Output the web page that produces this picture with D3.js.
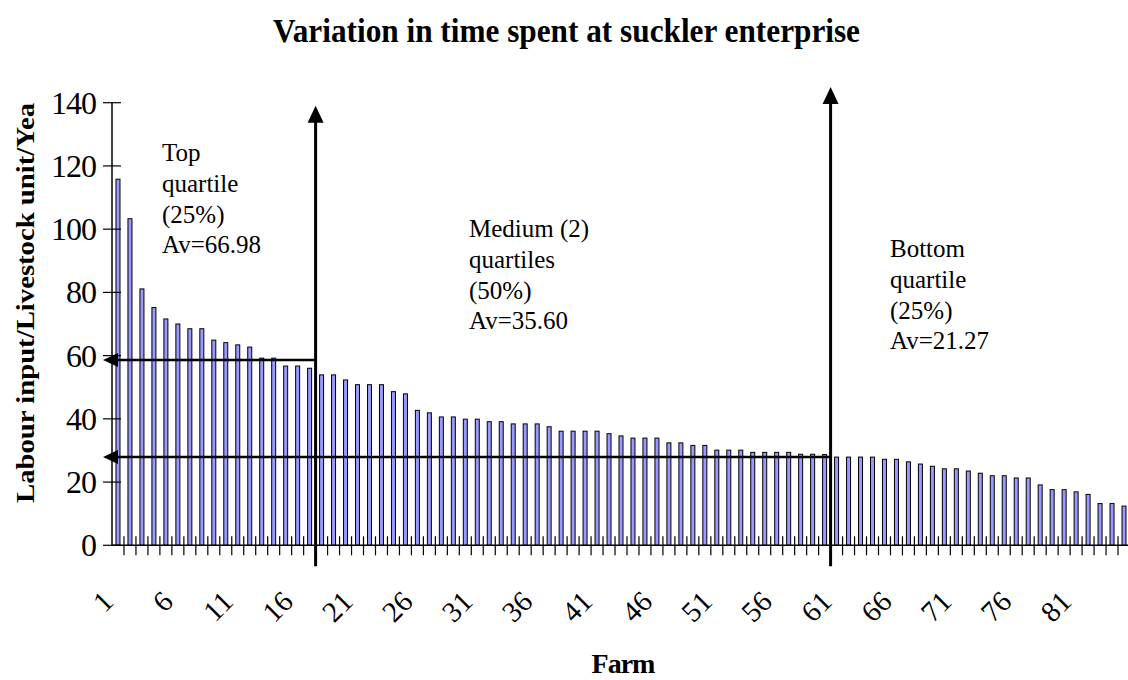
<!DOCTYPE html>
<html>
<head>
<meta charset="utf-8">
<script src="https://cdn.jsdelivr.net/npm/d3@7"></script>
<style>
  body { margin: 0; background: #fff; }
  text { font-family: "Liberation Serif", "Times New Roman", serif; fill: #000; }
</style>
</head>
<body>
<script>
// Stage
let width = 1128;
let height = 680;

let svg = d3.select("body")
            .append("svg")
            .attr("width", width)
            .attr("height", height);

// Colours
let bar_color = "#9999ff";
let line_color = "#000";

// Data: labour input per livestock unit per year, farms ranked
const farms = d3.range(1, 86);
const labour = [
  115.8, 103.3, 81.1, 75.2, 71.6, 70.0, 68.5, 68.5, 64.9, 64.1,
  63.4, 62.7, 59.2, 59.2, 56.7, 56.7, 56.0, 53.9, 53.9, 52.3,
  50.8, 50.8, 50.8, 48.6, 47.9, 42.7, 41.9, 40.6, 40.6, 39.9,
  39.9, 39.1, 39.1, 38.4, 38.4, 38.4, 37.5, 36.1, 36.1, 36.1,
  36.1, 35.3, 34.6, 33.9, 33.9, 33.9, 32.4, 32.4, 31.6, 31.6,
  30.1, 30.1, 30.1, 29.4, 29.4, 29.4, 29.4, 28.8, 28.8, 28.7,
  27.9, 27.9, 27.9, 27.9, 27.2, 27.2, 26.4, 25.7, 25.0, 24.2,
  24.2, 23.5, 22.8, 22.0, 22.0, 21.3, 21.3, 19.1, 17.6, 17.6,
  16.9, 16.1, 13.2, 13.2, 12.4
];
const xTickLabels = [1, 6, 11, 16, 21, 26, 31, 36, 41, 46, 51, 56, 61, 66, 71, 76, 81];
const yTicks = [0, 20, 40, 60, 80, 100, 120, 140];

// Quartile split annotations
const splitAfterFarm = [17, 60];
const splitArrowTop = [139, 145];
const thresholdValues = [58.6, 27.9];
const groupLabels = [
  ["Top", "quartile", "(25%)", "Av=66.98"],
  ["Medium (2)", "quartiles", "(50%)", "Av=35.60"],
  ["Bottom", "quartile", "(25%)", "Av=21.27"]
];

const data = farms.map((f, i) => ({farm: f, value: labour[i]}));

// Scales
const x = d3.scaleBand()
  .domain(farms)
  .range([112, 1130])
  .paddingInner(0)
  .paddingOuter(0);

const y = d3.scaleLinear()
  .domain([0, 140])
  .range([545.3, 102.7]);

// Title (condensed bold, like the original)
svg.append("text")
  .attr("x", 273)
  .attr("y", 42)
  .attr("font-size", 34)
  .attr("font-weight", "bold")
  .attr("textLength", 587)
  .attr("lengthAdjust", "spacingAndGlyphs")
  .text("Variation in time spent at suckler enterprise");

// Bars
const barW = 4;
svg.append("g")
  .selectAll("rect")
  .data(data)
  .enter().append("rect")
  .attr("x", d => x(d.farm) + x.bandwidth() / 2 - barW / 2)
  .attr("y", d => y(d.value))
  .attr("width", barW)
  .attr("height", d => y(0) - y(d.value))
  .attr("fill", bar_color)
  .attr("stroke", line_color)
  .attr("stroke-width", 1);

// X axis: line + cross ticks at category boundaries
let xAxis = svg.append("g");
xAxis.append("line")
  .attr("x1", x.range()[0]).attr("x2", x.range()[1])
  .attr("y1", y(0)).attr("y2", y(0))
  .attr("stroke", line_color).attr("stroke-width", 1.5);

xAxis.selectAll(".xtick")
  .data(farms.slice(1))
  .enter().append("line")
  .attr("class", "xtick")
  .attr("x1", d => x(d)).attr("x2", d => x(d))
  .attr("y1", y(0) - 9).attr("y2", y(0) + 10)
  .attr("stroke", line_color).attr("stroke-width", 1.2);

xAxis.selectAll(".xlabel")
  .data(xTickLabels)
  .enter().append("text")
  .attr("class", "xlabel")
  .attr("text-anchor", "end")
  .attr("font-size", 29)
  .attr("transform", d => `translate(${x(d) + x.bandwidth() / 2 - 3},${y(0) + 58}) rotate(-45)`)
  .text(d => d);

// Y axis
let yAxis = svg.append("g");
yAxis.append("line")
  .attr("x1", 112).attr("x2", 112)
  .attr("y1", y(140)).attr("y2", y(0))
  .attr("stroke", line_color).attr("stroke-width", 1.5);

yAxis.selectAll(".ytick")
  .data(yTicks)
  .enter().append("line")
  .attr("x1", 103).attr("x2", 121)
  .attr("y1", d => y(d)).attr("y2", d => y(d))
  .attr("stroke", line_color).attr("stroke-width", 1.2);

yAxis.selectAll(".ylabel")
  .data(yTicks)
  .enter().append("text")
  .attr("text-anchor", "end")
  .attr("font-size", 32)
  .attr("x", 96)
  .attr("y", d => y(d) + 11)
  .attr("letter-spacing", -1)
  .text(d => d);

// Axis titles
svg.append("text")
  .attr("transform", "translate(34,503) rotate(-90)")
  .attr("font-size", 26)
  .attr("font-weight", "bold")
  .attr("textLength", 400)
  .attr("lengthAdjust", "spacingAndGlyphs")
  .text("Labour input/Livestock unit/Yea");

svg.append("text")
  .attr("x", 623)
  .attr("y", 673)
  .attr("text-anchor", "middle")
  .attr("font-size", 28)
  .attr("font-weight", "bold")
  .attr("letter-spacing", -1)
  .text("Farm");

// Horizontal threshold arrows (pointing to y axis)
let ann = svg.append("g");
thresholdValues.forEach((v, i) => {
  const xEnd = x(splitAfterFarm[i]) + x.bandwidth();
  const yy = y(v);
  ann.append("line")
    .attr("x1", 116).attr("x2", xEnd)
    .attr("y1", yy).attr("y2", yy)
    .attr("stroke", line_color).attr("stroke-width", 2.5);
  ann.append("path")
    .attr("d", `M103,${yy} L118,${yy - 7} L118,${yy + 7} Z`)
    .attr("fill", line_color);
});

// Vertical split arrows
splitAfterFarm.forEach((f, i) => {
  const xx = x(f) + x.bandwidth();
  const tip = y(splitArrowTop[i]);
  ann.append("line")
    .attr("x1", xx).attr("x2", xx)
    .attr("y1", y(0) + 21).attr("y2", tip + 14)
    .attr("stroke", line_color).attr("stroke-width", 3);
  ann.append("path")
    .attr("d", `M${xx},${tip} L${xx - 8},${tip + 17} L${xx + 8},${tip + 17} Z`)
    .attr("fill", line_color);
});

// Group labels
const labelPos = [[162, 161], [469, 237], [890, 257]];
groupLabels.forEach((lines, i) => {
  const t = ann.append("text")
    .attr("font-size", 25)
    .attr("x", labelPos[i][0])
    .attr("y", labelPos[i][1]);
  lines.forEach((s, j) => {
    t.append("tspan")
      .attr("x", labelPos[i][0])
      .attr("dy", j === 0 ? 0 : 30.8)
      .text(s);
  });
});
</script>
</body>
</html>
